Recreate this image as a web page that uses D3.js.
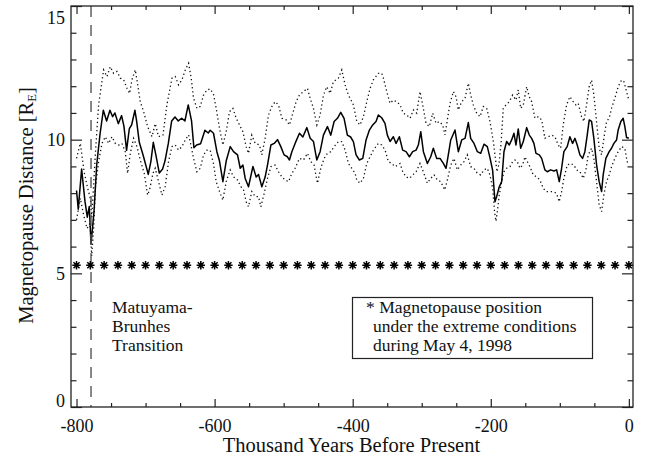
<!DOCTYPE html>
<html><head><meta charset="utf-8">
<script src="https://cdn.jsdelivr.net/npm/d3@7"></script>
<style>
html,body{margin:0;padding:0;background:#fff;}
svg{display:block;}
text{font-family:"Liberation Serif","Times New Roman",serif;fill:#111;}
</style></head>
<body>
<svg id="chart" width="651" height="462"></svg>
<script>
// ---- data (thousand years BP, magnetopause distance in R_E) ----
const meanSeries = [[-800,8.1],[-797.5,7.4],[-792.6,8.9],[-787.8,7.7],[-784.4,7.1],[-781.5,7.5],[-779,6.1],[-774.7,7.3],[-770.8,9.05],[-766,10.2],[-761.2,11.1],[-756.4,10.7],[-751.6,11.1],[-747.7,10.86],[-744.4,11.0],[-739.5,10.6],[-734.7,10.9],[-731.3,10.5],[-727.5,9.6],[-723.6,10.4],[-720.2,10.55],[-715.4,11.1],[-713,10.7],[-709.1,9.9],[-703.3,9.4],[-696.1,8.7],[-692.2,9.2],[-688.8,9.9],[-684.9,9.4],[-680.1,8.75],[-675.3,8.9],[-671.9,9.2],[-667.1,9.85],[-662.2,10.7],[-657.4,10.85],[-652.6,10.7],[-647.8,10.8],[-643,10.7],[-638.2,11.3],[-633.4,10.7],[-630,9.7],[-626.1,9.8],[-620.3,9.85],[-614,10.35],[-609.2,10.25],[-606.4,10.35],[-601.6,10.24],[-596.7,9.55],[-592.9,9.2],[-588,8.43],[-583.2,9.2],[-577.4,9.74],[-572.6,9.55],[-566.8,9.43],[-562.9,8.93],[-559,9.05],[-555.7,8.55],[-550.9,8.24],[-544.5,9.0],[-539.8,8.6],[-536.4,8.7],[-531.6,8.24],[-526.8,8.6],[-523.4,9.05],[-518.5,9.8],[-513.7,9.86],[-508.9,10.0],[-504.1,9.74],[-499.3,9.43],[-494.5,9.36],[-491.6,9.24],[-488.1,9.55],[-483.4,9.86],[-477.1,10.24],[-472.2,10.1],[-466.4,10.45],[-461.6,10.05],[-456.8,9.93],[-452,9.24],[-447.2,9.55],[-442.4,10.17],[-436.6,10.49],[-431.7,10.17],[-426.9,10.68],[-422.1,10.8],[-417.3,11.02],[-412.5,10.8],[-407.7,10.17],[-403,10.1],[-399,9.93],[-395.1,9.43],[-390.3,9.24],[-385.4,9.3],[-380.6,9.99],[-375.8,10.36],[-371,10.55],[-366.2,10.68],[-362.8,10.92],[-358,10.82],[-353.2,10.61],[-349.8,10.17],[-345.9,9.93],[-341.1,10.11],[-337.2,9.86],[-332.4,10.11],[-327.6,9.61],[-322.7,9.55],[-317.9,9.36],[-313.1,9.55],[-308.2,9.61],[-304.9,9.8],[-301.4,10.3],[-297.6,9.55],[-291.8,9.11],[-287,9.36],[-283.2,9.68],[-278.4,9.3],[-273.5,9.3],[-268.7,9.11],[-264.8,8.93],[-261.5,9.43],[-258,9.99],[-251.8,10.36],[-247,9.55],[-242.1,9.99],[-237.3,10.05],[-232.5,10.64],[-229.1,10.05],[-224.3,9.86],[-219.4,9.55],[-214.6,9.49],[-209.8,9.83],[-205,9.74],[-201.2,9.33],[-197.3,8.85],[-193.9,7.68],[-191.5,7.87],[-187.7,8.24],[-184.2,8.43],[-180.9,9.55],[-177,9.93],[-173.2,9.8],[-169.8,9.99],[-166.4,10.24],[-163.5,9.8],[-160.2,10.4],[-156.7,9.68],[-152.9,9.93],[-148,10.45],[-144.2,10.17],[-140.8,10.05],[-137.5,9.86],[-134.5,9.49],[-129.7,9.43],[-126.3,9.3],[-121.6,8.87],[-118.2,8.8],[-113.3,8.87],[-108.5,8.83],[-104.6,8.87],[-100.8,8.43],[-97.4,8.93],[-94.1,9.55],[-89.3,9.74],[-85.4,10.11],[-81.5,9.86],[-78.1,10.05],[-74.8,9.8],[-70.9,9.43],[-67,9.3],[-63.7,9.55],[-60.3,10.17],[-57.4,10.74],[-54,10.68],[-50.7,10.05],[-46.7,9.05],[-43,8.43],[-39.5,8.06],[-37.2,8.68],[-33.3,9.3],[-28.5,9.55],[-25.1,9.68],[-21.7,9.86],[-17.8,9.99],[-15.5,10.36],[-11.6,10.68],[-8.2,10.8],[-5.8,10.49],[-3.3,10.08],[0,10.05]];

const upperSeries = [[-800,9.3],[-794.5,9.86],[-789,8.8],[-784,8.2],[-780,7.8],[-778,7.1],[-775,8.4],[-772.8,9.43],[-768,11.3],[-760.8,12.61],[-755.9,12.36],[-751.1,12.73],[-746.3,12.48],[-741.4,12.55],[-736.6,12.3],[-731.8,12.24],[-726.9,11.92],[-723.1,11.73],[-719.7,12.24],[-714.9,12.61],[-712.5,12.24],[-707.7,11.42],[-702.8,11.05],[-697.1,10.49],[-690.7,10.11],[-686,10.6],[-681.2,10.11],[-674.8,10.17],[-669.1,11.3],[-661.8,12.3],[-657,12.36],[-652.2,12.05],[-647.3,12.24],[-642.5,12.61],[-637.7,12.86],[-633.9,12.3],[-630.5,11.55],[-625.6,11.17],[-620.8,11.24],[-616,11.67],[-611.1,11.86],[-606.4,11.9],[-601.6,11.7],[-597.7,11.17],[-592.9,10.42],[-588,9.8],[-583.2,10.3],[-578.4,11.05],[-573.5,11.17],[-568.7,10.8],[-563.9,10.55],[-559.1,10.3],[-554.3,9.74],[-550.9,9.49],[-546.1,10.17],[-541.2,9.86],[-535,9.8],[-531.6,9.43],[-526.8,10.05],[-522,10.92],[-517.1,11.24],[-512.3,11.42],[-507.5,11.3],[-502.6,10.8],[-496.4,10.74],[-491.6,10.55],[-486.7,10.99],[-481.9,11.42],[-477.1,11.67],[-471.3,11.8],[-465.5,11.92],[-461.6,11.55],[-456.8,11.17],[-451.9,10.55],[-447.2,10.92],[-442.3,11.67],[-437.5,11.98],[-432.7,11.73],[-427.9,12.17],[-420.7,12.3],[-415.8,12.61],[-411,12.05],[-406.2,11.67],[-401.3,11.42],[-398.9,11.3],[-394.1,10.68],[-389.3,10.55],[-384.5,10.86],[-379.6,11.42],[-374.8,11.92],[-370,12.24],[-362.8,12.48],[-357.9,12.48],[-355.5,12.3],[-350.7,11.8],[-345.9,11.36],[-341.1,11.48],[-336.2,11.42],[-331.4,11.3],[-326.6,10.99],[-321.7,10.92],[-316.9,10.8],[-312.1,11.11],[-307.3,10.99],[-302.5,11.8],[-298.6,11.3],[-293.8,10.61],[-289,10.49],[-284.1,10.99],[-279.3,10.61],[-274.5,10.68],[-269.6,10.55],[-266.3,10.18],[-262.9,10.74],[-259,11.36],[-254.2,11.8],[-250.4,11.61],[-247,11.11],[-242.1,11.42],[-237.3,11.55],[-232.5,12.11],[-229.1,11.67],[-225.3,11.3],[-220.4,10.99],[-215.6,10.86],[-210.8,11.24],[-205.9,11.17],[-201.2,10.68],[-196.3,9.93],[-193.9,9.43],[-191,8.8],[-188,9.1],[-185,9.9],[-181.9,11.17],[-178,11.3],[-173.2,11.42],[-168.3,11.67],[-163.5,11.48],[-160.2,11.86],[-156.7,11.17],[-152.9,11.3],[-148,11.98],[-144.3,11.61],[-140.8,11.42],[-136,10.8],[-131.2,10.86],[-126.3,10.74],[-121.6,10.05],[-116.8,10.11],[-111.9,10.17],[-107.1,10.11],[-102.3,9.8],[-98.8,9.68],[-95.1,10.55],[-90.2,11.3],[-85.4,11.61],[-80.6,11.42],[-76.7,11.3],[-73.4,11.36],[-68.5,10.86],[-65.1,10.68],[-61.3,11.3],[-57.5,11.98],[-54,12.23],[-50.7,11.67],[-46.8,10.68],[-43,9.68],[-39.5,9.43],[-36.2,10.05],[-32.3,10.68],[-28.5,10.8],[-25.1,11.17],[-20.3,11.55],[-15.5,11.98],[-10.6,12.23],[-7.2,12.17],[-3.3,11.8],[0,11.48]];

const lowerSeries = [[-800,7.0],[-794.5,7.81],[-789.7,7.18],[-784.8,6.68],[-780.5,6.87],[-778,5.65],[-775,6.8],[-772.8,8.18],[-768,9.18],[-763.2,9.86],[-758.3,10.11],[-753.5,9.86],[-748.7,10.11],[-743.8,9.86],[-739,9.8],[-734.2,9.86],[-729.4,9.55],[-726,8.74],[-722.1,9.49],[-717.3,10.05],[-712.5,9.74],[-707.7,9.24],[-701.9,8.74],[-697.1,7.93],[-694.2,8.12],[-689.3,8.74],[-686,8.93],[-681.2,8.43],[-676.3,7.93],[-671.6,8.24],[-666.7,9.18],[-661.8,9.74],[-657,9.8],[-652.2,9.61],[-647.3,9.74],[-642.5,9.99],[-637.7,10.18],[-634.3,9.8],[-630.5,9.3],[-625.6,8.8],[-620.8,8.93],[-616,9.43],[-611.1,9.61],[-606.4,9.6],[-601.6,9.1],[-597.7,8.43],[-592.9,8.06],[-588,7.74],[-583.2,8.43],[-577.4,8.87],[-572.6,8.61],[-566.8,8.49],[-561.9,8.24],[-558.1,8.12],[-554.3,7.68],[-550.9,7.49],[-546.1,8.06],[-541.2,7.87],[-536.4,7.87],[-533,7.49],[-528.2,7.99],[-523.4,8.55],[-518.5,8.99],[-512.3,9.05],[-507.5,8.8],[-502.6,8.61],[-497.8,8.49],[-493,8.43],[-488.1,8.74],[-483.4,8.93],[-477.1,9.3],[-471.3,9.24],[-465.5,9.49],[-460.6,9.18],[-455.9,9.05],[-451.1,8.37],[-446.2,8.93],[-441.4,9.3],[-436.6,9.49],[-431.7,9.55],[-426.9,9.74],[-420.7,9.93],[-415.8,9.93],[-411,9.61],[-406.2,9.11],[-401.3,8.93],[-396.5,8.74],[-394.1,8.49],[-389.3,8.37],[-384.5,8.55],[-379.6,9.11],[-374.8,9.36],[-370,9.61],[-362.8,9.86],[-357.9,9.8],[-353.1,9.61],[-348.3,9.18],[-343.4,9.11],[-338.6,8.99],[-331.4,9.11],[-327.5,8.8],[-322.7,8.61],[-317.9,8.55],[-313,8.68],[-308.2,8.8],[-302.5,9.11],[-297.7,8.8],[-291.9,8.37],[-287,8.55],[-282.2,8.68],[-277.4,8.49],[-272.5,8.43],[-266.7,8.12],[-262.9,8.49],[-258,9.05],[-253.3,9.3],[-248.5,8.87],[-243.6,9.05],[-238.8,9.18],[-234,9.43],[-229.1,8.99],[-224.3,8.93],[-219.5,8.74],[-214.6,8.68],[-209.8,8.87],[-205,8.93],[-201.2,8.68],[-197.3,8.18],[-194.5,7.3],[-192.5,6.95],[-190.5,7.3],[-187.7,7.93],[-184.2,8.43],[-180.9,8.8],[-177,8.93],[-172.2,8.99],[-168.3,9.18],[-165,9.24],[-161.6,9.18],[-157.7,8.93],[-153.9,9.05],[-150.5,9.36],[-147.2,9.18],[-143.3,8.99],[-138.5,8.68],[-133.6,8.61],[-128.8,8.49],[-124,8.18],[-120.1,8.06],[-115.3,8.06],[-109.6,8.06],[-104.7,7.99],[-100.9,7.68],[-97.4,8.06],[-94.1,8.55],[-89.3,9.05],[-84.4,9.11],[-79.6,9.05],[-75.7,8.87],[-70.9,8.8],[-66.1,8.55],[-62.2,8.87],[-58.9,9.43],[-54,9.68],[-50.7,9.3],[-46.8,8.43],[-43,7.56],[-39.5,7.31],[-36.2,7.93],[-32.3,8.43],[-28.5,8.68],[-25.1,8.99],[-20.3,9.3],[-15.5,9.55],[-10.6,9.74],[-5.8,9.68],[-2.5,9.18],[0,9.05]];

const extremeYears = [-800,-780,-760,-740,-720,-700,-680,-660,-640,-620,-600,-580,-560,-540,-520,-500,-480,-460,-440,-420,-400,-380,-360,-340,-320,-300,-280,-260,-240,-220,-200,-180,-160,-140,-120,-100,-80,-60,-40,-20,0];
const extremeValue = 5.3;
const transitionYear = -779;

const xMajorTicks = [-800,-600,-400,-200,0];
const xMinorTicks = [-750,-700,-650,-550,-500,-450,-350,-300,-250,-150,-100,-50];
const yMajorTicks = [0,5,10,15];
const yMinorTicks = [1,2,3,4,6,7,8,9,11,12,13,14];

const xDomain = [-808, 6];
const yDomain = [0, 15];

const annotationLines = ["Matuyama-","Brunhes","Transition"];
const legendLines = ["* Magnetopause position","under the extreme conditions","during May 4, 1998"];

// ---- layout ----
const L = 71, R = 633, T = 6, B = 407;
const svg = d3.select("#chart");
const x = d3.scaleLinear().domain(xDomain).range([L, R]);
const y = d3.scaleLinear().domain(yDomain).range([B, T]);

const fontTick = 18, fontTitle = 20.5, fontNote = 17.5;
const hyphenFmt = d => String(d);   // plain ASCII hyphen like the original

// data lines
const line = d3.line().x(d => x(d[0])).y(d => y(d[1]));
const g = svg.append("g");
g.append("path").datum(upperSeries).attr("d", line)
  .attr("fill","none").attr("stroke","#111").attr("stroke-width",1.3)
  .attr("stroke-dasharray","1.3,2.8");
g.append("path").datum(lowerSeries).attr("d", line)
  .attr("fill","none").attr("stroke","#111").attr("stroke-width",1.3)
  .attr("stroke-dasharray","1.3,2.8");
g.append("path").datum(meanSeries).attr("d", line)
  .attr("fill","none").attr("stroke","#000").attr("stroke-width",1.5)
  .attr("stroke-linejoin","round");

// transition dashed line
svg.append("line")
  .attr("x1", x(transitionYear)).attr("x2", x(transitionYear))
  .attr("y1", y(15)).attr("y2", y(0))
  .attr("stroke","#555").attr("stroke-width",1.4).attr("stroke-dasharray","11,8");

// asterisks
const ar = 4.2, ad = ar * 0.72;
const astPath = `M0,${-ar}L0,${ar}M${-ar},0L${ar},0M${-ad},${-ad}L${ad},${ad}M${-ad},${ad}L${ad},${-ad}`;
svg.append("g").selectAll("path").data(extremeYears).join("path")
  .attr("transform", d => `translate(${x(d)},${y(extremeValue)})`)
  .attr("d", astPath).attr("stroke","#000").attr("stroke-width",1.5).attr("fill","none");

// axes
function addAxis(gen, tx, ty) {
  const a = svg.append("g").attr("transform", `translate(${tx},${ty})`).call(gen);
  a.select(".domain").remove();
  a.selectAll(".tick line").attr("stroke","#222").attr("stroke-width",1.2);
  return a;
}
// bottom
const axB = addAxis(d3.axisBottom(x).tickValues(xMajorTicks).tickSize(-8).tickPadding(12).tickFormat(hyphenFmt), 0, B);
axB.selectAll("text").attr("font-size", fontTick).attr("font-family","Liberation Serif").attr("fill","#111");
addAxis(d3.axisBottom(x).tickValues(xMinorTicks).tickSize(-4).tickFormat(""), 0, B);
// top
addAxis(d3.axisTop(x).tickValues(xMajorTicks).tickSize(-8).tickFormat(""), 0, T);
addAxis(d3.axisTop(x).tickValues(xMinorTicks).tickSize(-4).tickFormat(""), 0, T);
// left
const axL = addAxis(d3.axisLeft(y).tickValues(yMajorTicks).tickSize(-11).tickPadding(6).tickFormat(hyphenFmt), L, 0);
axL.selectAll("text").attr("font-size", fontTick).attr("font-family","Liberation Serif").attr("fill","#111")
  .attr("dy", d => d === 15 ? "0.95em" : d === 0 ? "-0.05em" : "0.35em");
addAxis(d3.axisLeft(y).tickValues(yMinorTicks).tickSize(-5.5).tickFormat(""), L, 0);
// right
addAxis(d3.axisRight(y).tickValues(yMajorTicks).tickSize(-11).tickFormat(""), R, 0);
addAxis(d3.axisRight(y).tickValues(yMinorTicks).tickSize(-5.5).tickFormat(""), R, 0);

// frame
svg.append("rect").attr("x", L).attr("y", T).attr("width", R - L).attr("height", B - T)
  .attr("fill","none").attr("stroke","#222").attr("stroke-width",1.3);

// axis titles
svg.append("text").attr("x", (L + R) / 2 - 0.5).attr("y", 452).attr("text-anchor","middle")
  .attr("font-size", fontTitle).text("Thousand Years Before Present");
const yt = svg.append("text").attr("transform", `translate(33,${(T + B) / 2 - 1}) rotate(-90)`)
  .attr("text-anchor","middle").attr("font-size", fontTitle);
yt.append("tspan").text("Magnetopause Distance [R");
yt.append("tspan").attr("font-size", fontTitle * 0.62).attr("dy", 3).text("E");
yt.append("tspan").attr("dy", -3).text("]");

// annotation
svg.append("g").selectAll("text").data(annotationLines).join("text")
  .attr("x", 112).attr("y", (d, i) => 313 + i * 19).attr("font-size", fontNote).text(d => d);

// legend box
svg.append("rect").attr("x", 352.5).attr("y", 297.5).attr("width", 240).attr("height", 61)
  .attr("fill","#fff").attr("stroke","#222").attr("stroke-width",1.2);
svg.append("g").selectAll("text").data(legendLines).join("text")
  .attr("x", (d, i) => i === 0 ? 366 : 373).attr("y", (d, i) => 313 + i * 19)
  .attr("font-size", fontNote).text(d => d);
</script>
</body></html>
